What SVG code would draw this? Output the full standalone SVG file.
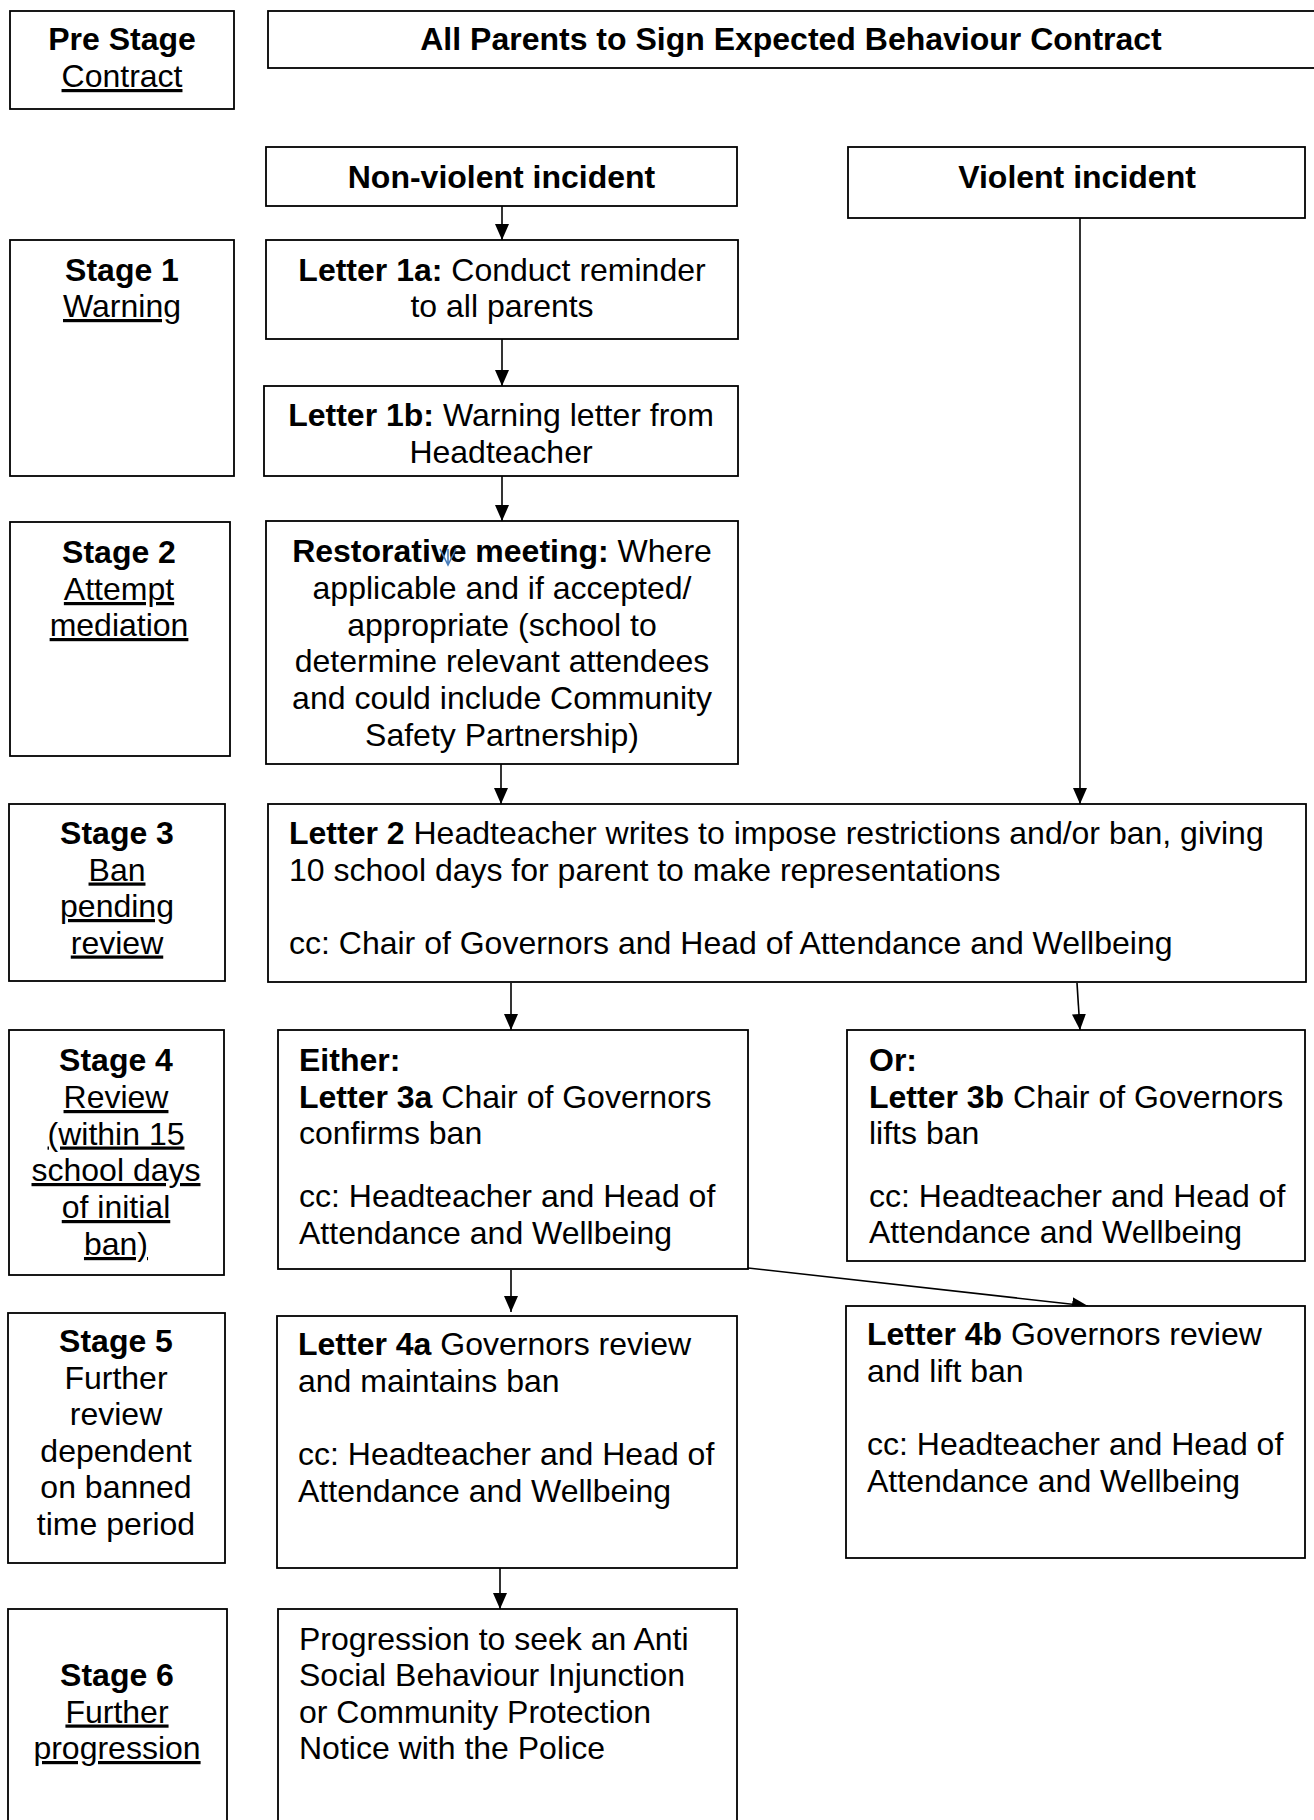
<svg xmlns="http://www.w3.org/2000/svg" width="1314" height="1820" viewBox="0 0 1314 1820">
<style>
.box{fill:#fff;stroke:#000;stroke-width:1.8}
text{font-family:"Liberation Sans",Arial,sans-serif;font-size:32px;fill:#000}
.c{text-anchor:middle}
.b{font-weight:bold}
.u{text-decoration:underline}
.con{stroke:#000;stroke-width:1.6;fill:none}
</style>
<defs>
<marker id="ah" viewBox="0 0 16 14" refX="16" refY="7" markerWidth="16" markerHeight="14" markerUnits="userSpaceOnUse" orient="auto">
<path d="M0,0 L16,7 L0,14 z" fill="#000"/>
</marker>
</defs>
<rect width="1314" height="1820" fill="#fff"/>

<g id="connectors">
<line class="con" x1="502" y1="206" x2="502" y2="240" marker-end="url(#ah)"/>
<line class="con" x1="502" y1="339" x2="502" y2="386" marker-end="url(#ah)"/>
<line class="con" x1="502" y1="476" x2="502" y2="521" marker-end="url(#ah)"/>
<line class="con" x1="501" y1="764" x2="501" y2="804" marker-end="url(#ah)"/>
<line class="con" x1="1080" y1="218" x2="1080" y2="804" marker-end="url(#ah)"/>
<line class="con" x1="511" y1="983" x2="511" y2="1030" marker-end="url(#ah)"/>
<line class="con" x1="1077" y1="983" x2="1080" y2="1030" marker-end="url(#ah)"/>
<line class="con" x1="511" y1="1270" x2="511" y2="1312" marker-end="url(#ah)"/>
<line class="con" x1="748" y1="1268" x2="1088" y2="1306" marker-end="url(#ah)"/>
<line class="con" x1="500" y1="1568" x2="500" y2="1609" marker-end="url(#ah)"/>
</g>

<g id="pre-stage">
<rect class="box" x="10" y="11" width="224" height="98"/>
<text class="c b" x="122" y="50">Pre Stage</text>
<text class="c u" x="122" y="87">Contract</text>
</g>

<g id="contract">
<rect class="box" x="268" y="11" width="1070" height="57"/>
<text class="c b" x="791" y="50">All Parents to Sign Expected Behaviour Contract</text>
</g>

<g id="non-violent">
<rect class="box" x="266" y="147" width="471" height="59"/>
<text class="c b" x="501.5" y="188">Non-violent incident</text>
</g>

<g id="violent">
<rect class="box" x="848" y="147" width="457" height="71"/>
<text class="c b" x="1077" y="188">Violent incident</text>
</g>

<g id="stage1">
<rect class="box" x="10" y="240" width="224" height="236"/>
<text class="c b" x="122" y="281">Stage 1</text>
<text class="c u" x="122" y="317">Warning</text>
</g>

<g id="letter1a">
<rect class="box" x="266" y="240" width="472" height="99"/>
<text class="c" x="502" y="281"><tspan class="b">Letter 1a:</tspan> Conduct reminder</text>
<text class="c" x="502" y="317">to all parents</text>
</g>

<g id="letter1b">
<rect class="box" x="264" y="386" width="474" height="90"/>
<text class="c" x="501" y="426"><tspan class="b">Letter 1b:</tspan> Warning letter from</text>
<text class="c" x="501" y="463">Headteacher</text>
</g>

<g id="stage2">
<rect class="box" x="10" y="522" width="220" height="234"/>
<text class="c b" x="119" y="563">Stage 2</text>
<text class="c u" x="119" y="600">Attempt</text>
<text class="c u" x="119" y="636">mediation</text>
</g>

<g id="restorative">
<rect class="box" x="266" y="521" width="472" height="243"/>
<text class="c" x="502" y="562"><tspan class="b">Restorative meeting:</tspan> Where</text>
<text class="c" x="502" y="599">applicable and if accepted/</text>
<text class="c" x="502" y="636">appropriate (school to</text>
<text class="c" x="502" y="672">determine relevant attendees</text>
<text class="c" x="502" y="709">and could include Community</text>
<text class="c" x="502" y="746">Safety Partnership)</text>
<path d="M440,549 L448,565 L456,549 M448,549 L448,565" stroke="#4a7ebb" stroke-width="1.6" fill="none"/>
</g>

<g id="stage3">
<rect class="box" x="9" y="804" width="216" height="177"/>
<text class="c b" x="117" y="844">Stage 3</text>
<text class="c u" x="117" y="880.5">Ban</text>
<text class="c u" x="117" y="917">pending</text>
<text class="c u" x="117" y="953.5">review</text>
</g>

<g id="letter2">
<rect class="box" x="268" y="804" width="1038" height="178"/>
<text x="289" y="844"><tspan class="b">Letter 2</tspan> Headteacher writes to impose restrictions and/or ban, giving</text>
<text x="289" y="880.5">10 school days for parent to make representations</text>
<text x="289" y="954">cc: Chair of Governors and Head of Attendance and Wellbeing</text>
</g>

<g id="stage4">
<rect class="box" x="9" y="1030" width="215" height="245"/>
<text class="c b" x="116" y="1071">Stage 4</text>
<text class="c u" x="116" y="1108">Review</text>
<text class="c u" x="116" y="1144.5">(within 15</text>
<text class="c u" x="116" y="1181">school days</text>
<text class="c u" x="116" y="1218">of initial</text>
<text class="c u" x="116" y="1255">ban)</text>
</g>

<g id="letter3a">
<rect class="box" x="278" y="1030" width="470" height="239"/>
<text class="b" x="299" y="1071">Either:</text>
<text x="299" y="1107.5"><tspan class="b">Letter 3a</tspan> Chair of Governors</text>
<text x="299" y="1144">confirms ban</text>
<text x="299" y="1207">cc: Headteacher and Head of</text>
<text x="299" y="1244">Attendance and Wellbeing</text>
</g>

<g id="letter3b">
<rect class="box" x="847" y="1030" width="458" height="231"/>
<text class="b" x="869" y="1071">Or:</text>
<text x="869" y="1107.5"><tspan class="b">Letter 3b</tspan> Chair of Governors</text>
<text x="869" y="1144">lifts ban</text>
<text x="869" y="1206.5">cc: Headteacher and Head of</text>
<text x="869" y="1243">Attendance and Wellbeing</text>
</g>

<g id="stage5">
<rect class="box" x="8" y="1313" width="217" height="250"/>
<text class="c b" x="116" y="1352">Stage 5</text>
<text class="c" x="116" y="1389">Further</text>
<text class="c" x="116" y="1425">review</text>
<text class="c" x="116" y="1462">dependent</text>
<text class="c" x="116" y="1498">on banned</text>
<text class="c" x="116" y="1535">time period</text>
</g>

<g id="letter4a">
<rect class="box" x="277" y="1316" width="460" height="252"/>
<text x="298" y="1355"><tspan class="b">Letter 4a</tspan> Governors review</text>
<text x="298" y="1392">and maintains ban</text>
<text x="298" y="1465">cc: Headteacher and Head of</text>
<text x="298" y="1502">Attendance and Wellbeing</text>
</g>

<g id="letter4b">
<rect class="box" x="846" y="1306" width="459" height="252"/>
<text x="867" y="1345"><tspan class="b">Letter 4b</tspan> Governors review</text>
<text x="867" y="1382">and lift ban</text>
<text x="867" y="1455">cc: Headteacher and Head of</text>
<text x="867" y="1492">Attendance and Wellbeing</text>
</g>

<g id="stage6">
<rect class="box" x="8" y="1609" width="219" height="240"/>
<text class="c b" x="117" y="1686">Stage 6</text>
<text class="c u" x="117" y="1722.5">Further</text>
<text class="c u" x="117" y="1759">progression</text>
</g>

<g id="progression">
<rect class="box" x="278" y="1609" width="459" height="240"/>
<text x="299" y="1650">Progression to seek an Anti</text>
<text x="299" y="1686">Social Behaviour Injunction</text>
<text x="299" y="1722.5">or Community Protection</text>
<text x="299" y="1759">Notice with the Police</text>
</g>
</svg>
